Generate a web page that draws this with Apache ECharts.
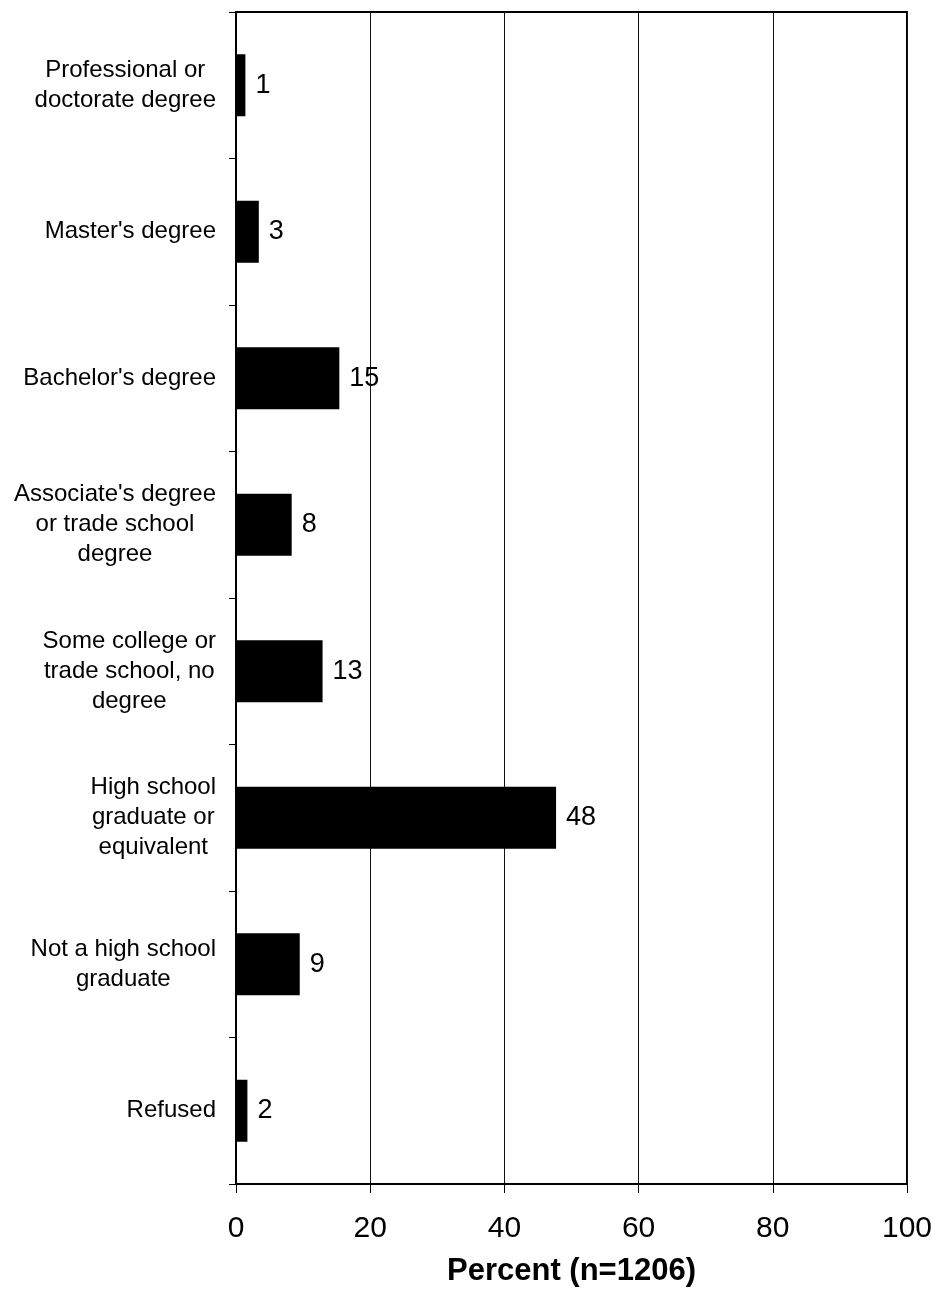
<html>
<head>
    <meta charset="utf-8">
    <title>Education</title>
    <script src="https://cdn.jsdelivr.net/npm/echarts@6/dist/echarts.min.js"></script>
    <style>
    *{
        margin: 0;
        padding: 0;
    }
    #main{
        width: 937px;
        height: 1297px;
        background: #fff;
    }
    </style>
</head>
<body>
    <div id="main"></div>
    <script type="text/javascript">
        // categories, top to bottom
        var categories = [
            "Professional or\ndoctorate degree",
            "Master's degree",
            "Bachelor's degree",
            "Associate's degree\nor trade school\ndegree",
            "Some college or\ntrade school, no\ndegree",
            "High school\ngraduate or\nequivalent",
            "Not a high school\ngraduate",
            "Refused"
        ];
        // bar lengths
        var percents = [1.4, 3.4, 15.4, 8.3, 12.9, 47.7, 9.5, 1.7];
        // printed value labels
        var shownLabels = ["1", "3", "15", "8", "13", "48", "9", "2"];
        var xTicks = [0, 20, 40, 60, 80, 100];

        var font = '"Liberation Sans", Arial, sans-serif';
        var myChart = echarts.init(document.getElementById('main'), null, {renderer: 'canvas'});

        var option = {
            backgroundColor: '#fff',
            animation: false,
            grid: {
                left: 236,
                top: 12,
                right: 30,
                bottom: 113,
                show: true,
                borderColor: '#000',
                borderWidth: 2
            },
            xAxis: {
                type: 'value',
                min: xTicks[0],
                max: xTicks[xTicks.length - 1],
                interval: 20,
                name: 'Percent (n=1206)',
                nameLocation: 'middle',
                nameGap: 72,
                nameTextStyle: {
                    fontFamily: font,
                    fontSize: 31,
                    fontWeight: 'bold',
                    color: '#000'
                },
                axisLine: {show: true, lineStyle: {color: '#000', width: 2}},
                axisTick: {show: true, length: 9, lineStyle: {color: '#000', width: 1}},
                axisLabel: {
                    margin: 30,
                    fontFamily: font,
                    fontSize: 30,
                    color: '#000'
                },
                splitLine: {show: true, lineStyle: {color: '#111', width: 1}}
            },
            yAxis: {
                type: 'category',
                inverse: true,
                data: categories,
                axisLine: {show: true, lineStyle: {color: '#000', width: 2}},
                axisTick: {show: true, length: 7, lineStyle: {color: '#000', width: 1}},
                axisLabel: {
                    margin: 20,
                    formatter: function (v) {
                        return v.split('\n').map(function (l) {
                            return '{c|' + l + '}';
                        }).join('\n');
                    },
                    rich: {
                        c: {
                            align: 'center',
                            fontFamily: font,
                            fontSize: 24,
                            lineHeight: 30,
                            color: '#000'
                        }
                    }
                }
            },
            series: [
                {
                    name: 'Percent',
                    type: 'bar',
                    data: percents,
                    barWidth: 62,
                    itemStyle: {color: '#000'},
                    label: {
                        show: true,
                        position: 'right',
                        distance: 10,
                        fontFamily: font,
                        fontSize: 27,
                        color: '#000',
                        formatter: function (p) {
                            return shownLabels[p.dataIndex];
                        }
                    }
                }
            ]
        };
        myChart.setOption(option);
    </script>
</body>
</html>
